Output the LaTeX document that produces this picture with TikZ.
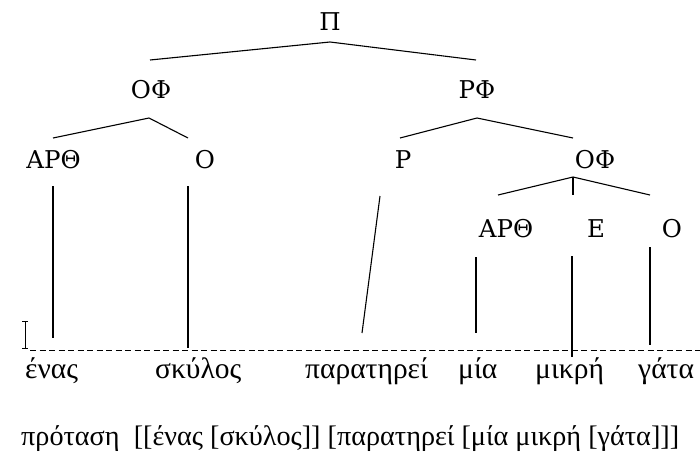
\documentclass[tikz,border=0pt]{standalone}
\usepackage{fontspec}
\newfontfamily\labfont{DejaVu Serif}
\newfontfamily\wordfont{Liberation Serif}
\begin{document}
\begin{tikzpicture}[x=1pt,y=-1pt,
  lab/.style={inner sep=0pt,anchor=base,font=\labfont\fontsize{24.5}{26}\selectfont},
  word/.style={inner sep=0pt,anchor=base west,font=\wordfont\fontsize{29.5}{30}\selectfont},
  sentence/.style={inner sep=0pt,anchor=base west,font=\wordfont\fontsize{28.2}{30}\selectfont},
  branch/.style={line width=1.1pt,line join=miter},
  stem/.style={line width=1.1pt}]
\useasboundingbox (0,0) rectangle (700,455);
% labels
\node[lab] (S) at (330,30) {Π};
\node[lab] (NP1) at (151,98) {ΟΦ};
\node[lab] (VP) at (477,98) {ΡΦ};
\node[lab] (D1) at (53.5,168) {ΑΡΘ};
\node[lab] (N1) at (205,168) {Ο};
\node[lab] (V) at (403,168) {Ρ};
\node[lab] (NP2) at (595,168) {ΟΦ};
\node[lab] (D2) at (506,237) {ΑΡΘ};
\node[lab] (A) at (596,237) {Ε};
\node[lab] (N2) at (672,237) {Ο};
% words
\node[word] (w1) at (25,378) {ένας};
\node[word] (w2) at (155,378) {σκύλος};
\node[word] (w3) at (305,378) {παρατηρεί};
\node[word] (w4) at (458,378) {μία};
\node[word] (w5) at (535,378) {μικρή};
\node[word] (w6) at (638,378) {γάτα};
\node[sentence] (sent) at (21,445) {πρόταση\ \ [[ένας [σκύλος]] [παρατηρεί [μία μικρή [γάτα]]]};
% branch coordinates
\coordinate (Sa) at (330,42);
\coordinate (Sl) at (150,60);
\coordinate (Sr) at (476,60);
\coordinate (N1a) at (149,118);
\coordinate (N1l) at (53,138);
\coordinate (N1r) at (188,138);
\coordinate (Va) at (477,118);
\coordinate (Vl) at (400,138);
\coordinate (Vr) at (573,138);
\coordinate (N2a) at (573,177);
\coordinate (N2l) at (498,195);
\coordinate (N2r) at (650,195);
\coordinate (N2m) at (573,195);
\draw[branch] (Sl) -- (Sa) -- (Sr);
\draw[branch] (N1l) -- (N1a) -- (N1r);
\draw[branch] (Vl) -- (Va) -- (Vr);
\draw[branch] (N2l) -- (N2a) -- (N2r);
\draw[branch] (N2a) -- (N2m);
% stems
\coordinate (t1) at (53,186);   \coordinate (b1) at (53,338);
\coordinate (t2) at (188,186);  \coordinate (b2) at (188,348);
\coordinate (t3) at (380,196);  \coordinate (b3) at (362,333);
\coordinate (t4) at (476,257);  \coordinate (b4) at (476,333);
\coordinate (t5) at (572,256);  \coordinate (b5) at (572,357);
\coordinate (t6) at (650,247);  \coordinate (b6) at (650,345);
\draw[stem] (t1) -- (b1);
\draw[stem] (t2) -- (b2);
\draw[stem] (t3) -- (b3);
\draw[stem] (t4) -- (b4);
\draw[stem] (t5) -- (b5);
\draw[stem] (t6) -- (b6);
% dashed baseline
\coordinate (dl) at (30,350);
\coordinate (dr) at (700,350);
\draw[line width=1pt,dash pattern=on 6pt off 3.5pt] (dl) -- (dr);
% I-beam mark
\draw[line width=1pt] (25,321) -- (25,348) (22,321) -- (28,321) (22,348) -- (28,348);
\end{tikzpicture}
\end{document}
